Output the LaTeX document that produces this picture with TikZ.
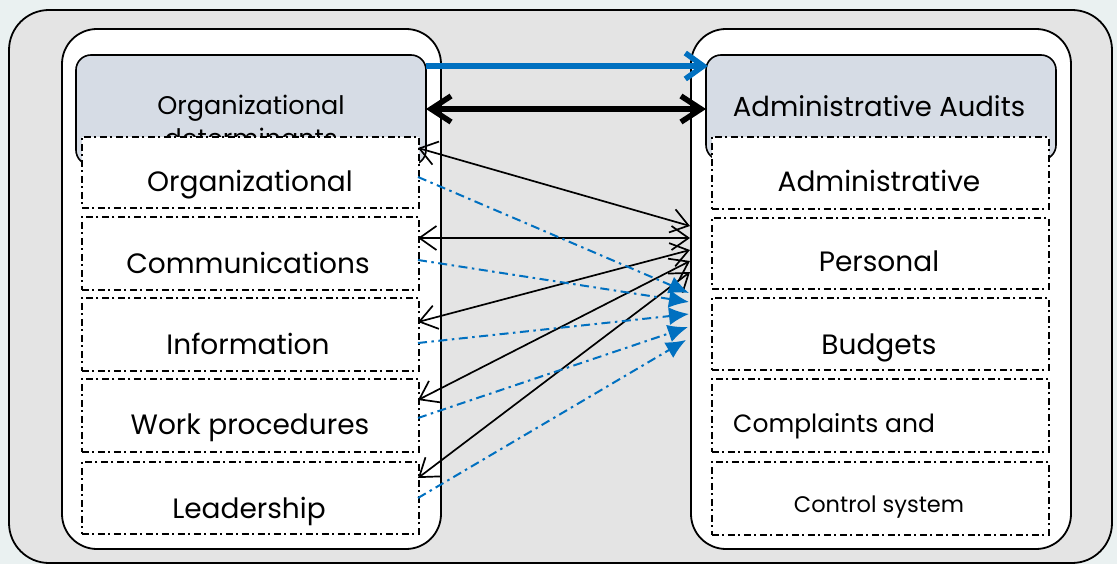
\documentclass[tikz,border=0pt]{standalone}
\usepackage{fontspec}
\setmainfont{Poppins}
\usetikzlibrary{arrows.meta}
\definecolor{bgout}{RGB}{234,241,241}
\definecolor{panelgray}{RGB}{228,228,228}
\definecolor{headfill}{RGB}{214,220,229}
\definecolor{arrblue}{RGB}{0,112,192}
\tikzset{
  panel/.style={draw=black, line width=1.8pt, fill=white, rounded corners=35pt},
  headbox/.style={draw=black, line width=1.6pt, fill=headfill, rounded corners=15pt},
  subbox/.style={draw=black, line width=1.8pt, fill=white, dash pattern=on 7pt off 3.5pt on 2pt off 3.5pt},
  lbl/.style={font=\fontsize{28}{33}\selectfont, inner sep=0pt, anchor=base},
  thinarr/.style={draw=black, line width=1.7pt, {Straight Barb[length=17pt,width=24pt]}-{Straight Barb[length=17pt,width=24pt]}},
  bluearr/.style={draw=arrblue, line width=2pt, dash pattern=on 9pt off 4.5pt on 2.5pt off 4.5pt, -{Latex[length=20pt,width=18pt]}},
}
\begin{document}
\begin{tikzpicture}[x=1pt,y=-1pt]
\useasboundingbox (0,0) rectangle (1117,564);
\fill[bgout] (0,0) rectangle (1117,564);
\draw[fill=panelgray, line width=1.8pt, rounded corners=40pt] (9,10) rectangle (1112,563);
% panels
\draw[panel] (62,29) rectangle (441,549);
\draw[panel] (691,29) rectangle (1071,549);
% headers
\draw[headbox] (76,55) rectangle (426,165);
\node[lbl, font=\fontsize{25.5}{30}\selectfont] (lhead) at (251,115) {Organizational};
\node[lbl, font=\fontsize{25.5}{30}\selectfont] (lhead2) at (251,148) {determinants};
\draw[headbox] (706,55) rectangle (1056,160);
\node[lbl, font=\fontsize{27.5}{33}\selectfont] (rhead) at (879,117) {Administrative Audits};
% left sub boxes
\node[subbox, minimum width=337pt, minimum height=71pt, anchor=north west] (l1) at (81,136) {};
\node[subbox, minimum width=337pt, minimum height=73pt, anchor=north west] (l2) at (81,216) {};
\node[subbox, minimum width=337pt, minimum height=73pt, anchor=north west] (l3) at (81,297) {};
\node[subbox, minimum width=337pt, minimum height=73pt, anchor=north west] (l4) at (81,378) {};
\node[subbox, minimum width=337pt, minimum height=72pt, anchor=north west] (l5) at (81,461) {};
\node[lbl] at (250,192) {Organizational};
\node[lbl] at (248,273) {Communications};
\node[lbl] at (248,354) {Information};
\node[lbl] at (250,434) {Work procedures};
\node[lbl] at (249,518) {Leadership};
% right sub boxes
\node[subbox, minimum width=337pt, minimum height=72pt, anchor=north west] (r1) at (711,136) {};
\node[subbox, minimum width=337pt, minimum height=71pt, anchor=north west] (r2) at (711,217) {};
\node[subbox, minimum width=337pt, minimum height=72pt, anchor=north west] (r3) at (711,297) {};
\node[subbox, minimum width=337pt, minimum height=73pt, anchor=north west] (r4) at (711,378) {};
\node[subbox, minimum width=337pt, minimum height=73pt, anchor=north west] (r5) at (711,461) {};
\node[lbl] at (879,192) {Administrative};
\node[lbl] at (879,272) {Personal};
\node[lbl] at (879,354) {Budgets};
\node[lbl, anchor=base west, font=\fontsize{25}{30}\selectfont] at (733,432) {Complaints and};
\node[lbl, font=\fontsize{22.5}{27}\selectfont] at (879,512) {Control system};
% top arrows
\coordinate (lt1) at (426,66);
\coordinate (rt1) at (708,66);
\coordinate (lt2) at (426,109);
\coordinate (rt2) at (706,109);
\draw[arrblue, line width=5.5pt, -{Straight Barb[length=18pt,width=26pt,line width=5.5pt]}] (lt1) -- (rt1);
\draw[black, line width=5.5pt, {Straight Barb[length=20pt,width=26pt,line width=5.5pt]}-{Straight Barb[length=20pt,width=26pt,line width=5.5pt]}] (lt2) -- (rt2);
% black thin connectors
\coordinate (a1) at (418,148); \coordinate (b1) at (690,226);
\coordinate (a2) at (418,238); \coordinate (b2) at (690,238);
\coordinate (a3) at (418,322); \coordinate (b3) at (690,250);
\coordinate (a4) at (418,400); \coordinate (b4) at (690,261);
\coordinate (a5) at (418,478); \coordinate (b5) at (690,272);
\foreach \i in {1,...,5} {\draw[thinarr] (a\i) -- (b\i);}
% blue dash-dot connectors
\coordinate (c1) at (418,177); \coordinate (d1) at (689,293);
\coordinate (c2) at (418,260); \coordinate (d2) at (689,302);
\coordinate (c3) at (418,343); \coordinate (d3) at (689,314);
\coordinate (c4) at (418,418); \coordinate (d4) at (688,327);
\coordinate (c5) at (418,498); \coordinate (d5) at (686,340);
\foreach \i in {1,...,5} {\draw[bluearr] (c\i) -- (d\i);}
\end{tikzpicture}
\end{document}
